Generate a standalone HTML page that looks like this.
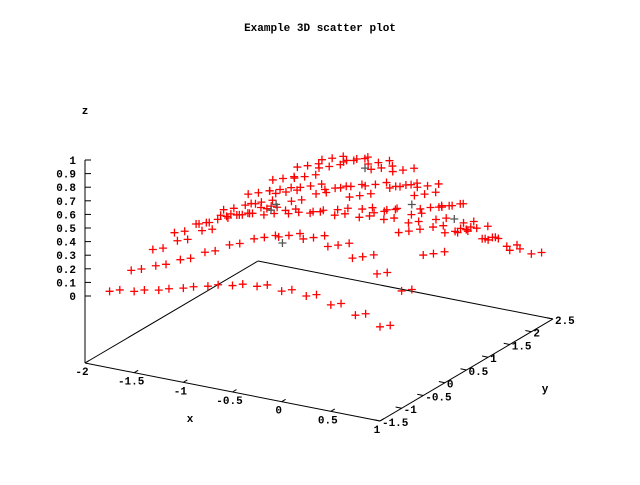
<!DOCTYPE html>
<html><head><meta charset="utf-8"><style>
html,body{margin:0;padding:0;background:#fff;}
svg text{font-family:"Liberation Mono",monospace;font-size:11px;font-weight:bold;fill:#000;}
</style></head><body>
<svg id="chart" width="640" height="480" viewBox="0 0 640 480" xmlns="http://www.w3.org/2000/svg">
<rect width="640" height="480" fill="#fff"/>
<text x="320" y="31" text-anchor="middle">Example 3D scatter plot</text>
<text x="85" y="114" text-anchor="middle">z</text>
<text x="190" y="422" text-anchor="middle">x</text>
<text x="545" y="392" text-anchor="middle">y</text>
<g id="axes"></g>
<g id="points"></g>
</svg>
<script>
const xGrid = [-1.75,-1.5,-1.25,-1,-0.75,-0.5,-0.25,0,0.25,0.5,0.75,1];
const yGrid = [-1.5,-1,-0.5,0,0.5,1,1.5,2];
const zTable = [
 [0.07,0.13,0.19,0.22,0.19,0.13,0.07,0.03],
 [0.105,0.2,0.29,0.32,0.29,0.2,0.105,0.044],
 [0.15,0.28,0.4,0.46,0.4,0.28,0.15,0.06],
 [0.2,0.37,0.54,0.61,0.54,0.37,0.2,0.08],
 [0.25,0.46,0.67,0.75,0.67,0.46,0.25,0.1],
 [0.29,0.54,0.78,0.88,0.78,0.54,0.29,0.12],
 [0.32,0.59,0.86,0.97,0.86,0.59,0.32,0.13],
 [0.32,0.61,0.88,1,0.88,0.61,0.32,0.135],
 [0.32,0.59,0.86,0.97,0.86,0.59,0.32,0.13],
 [0.29,0.54,0.78,0.88,0.78,0.54,0.29,0.12],
 [0.25,0.46,0.67,0.75,0.67,0.46,0.25,0.1],
 [0.2,0.37,0.54,0.61,0.54,0.37,0.2,0.08]
];
const grayX = [-0.9,-0.3,0.4,0.1,-1.2,0.7];
const grayY = [0.3,-0.8,0.6,0.2,1.1,0.9];
const grayZ = [0.45,0.5,0.62,0.92,0.3,0.5];
const zTicks = [0,0.1,0.2,0.3,0.4,0.5,0.6,0.7,0.8,0.9,1];
const xTicks = [-2,-1.5,-1,-0.5,0,0.5,1];
const yTicks = [-1.5,-1,-0.5,0,0.5,1,1.5,2,2.5];

const ZMIN = -0.4926;
function px(x,y){return 85 + 98.33*(x+2) + 43.25*(y+1.5);}
function py(x,y,z){return 363 + 19.33*(x+2) - 25.5*(y+1.5) - (z-ZMIN)*136;}
const NS="http://www.w3.org/2000/svg";
const axes=document.getElementById('axes');
const pts=document.getElementById('points');
function line(g,x1,y1,x2,y2,name){
  const l=document.createElementNS(NS,'line');
  l.setAttribute('x1',x1);l.setAttribute('y1',y1);l.setAttribute('x2',x2);l.setAttribute('y2',y2);
  l.setAttribute('stroke','#000');l.setAttribute('stroke-width','1');
  
  
  g.appendChild(l);
}
function text(g,x,y,s,anchor,name){
  const t=document.createElementNS(NS,'text');
  t.setAttribute('x',x);t.setAttribute('y',y);t.setAttribute('text-anchor',anchor);
  t.textContent=s;
  
  
  g.appendChild(t);
}
const c=[[-2,-1.5],[1,-1.5],[1,2.5],[-2,2.5]];
for(let i=0;i<4;i++){const a=c[i],b=c[(i+1)%4];
  line(axes,px(a[0],a[1]),py(a[0],a[1],ZMIN),px(b[0],b[1]),py(b[0],b[1],ZMIN),'base-edge');}
line(axes,85,py(-2,-1.5,ZMIN),85,py(-2,-1.5,1),'z-axis-line');
zTicks.forEach(v=>{const y=py(-2,-1.5,v);
  line(axes,85,y,91,y,'z-tick');
  text(axes,76,y+4,String(v),'end','z-tick-label');});
xTicks.forEach(v=>{const X=px(v,-1.5),Y=py(v,-1.5,ZMIN);
  line(axes,X,Y,X+4,Y-2.4,'x-tick');
  text(axes,X-3,Y+12,String(v),'middle','x-tick-label');});
yTicks.forEach(v=>{const X=px(1,v),Y=py(1,v,ZMIN);
  line(axes,X,Y,X-6,Y-1.2,'y-tick');
  text(axes,X+2,Y+5,String(v),'start','y-tick-label');});
function plus(x,y,z,col){
  const X=px(x,y),Y=py(x,y,z);
  const p=document.createElementNS(NS,'path');
  p.setAttribute('d',`M${X-4} ${Y}H${X+4}M${X} ${Y-4}V${Y+4}`);
  p.setAttribute('stroke',col);p.setAttribute('stroke-width','1.3');
  
  
  pts.appendChild(p);
}
for(let i=0;i<xGrid.length;i++) for(let j=0;j<yGrid.length;j++){
  const z=zTable[i][j];
  plus(xGrid[i],yGrid[j],z,'#f00');
  plus(xGrid[i]+0.06,yGrid[j]+0.1,z,'#f00');
  if(z>0.5) plus(xGrid[i]+0.12,yGrid[j]+0.22,z,'#f00');
}
for(let i=0;i<grayX.length;i++) plus(grayX[i],grayY[i],grayZ[i],'#555');
</script>
</body></html>
